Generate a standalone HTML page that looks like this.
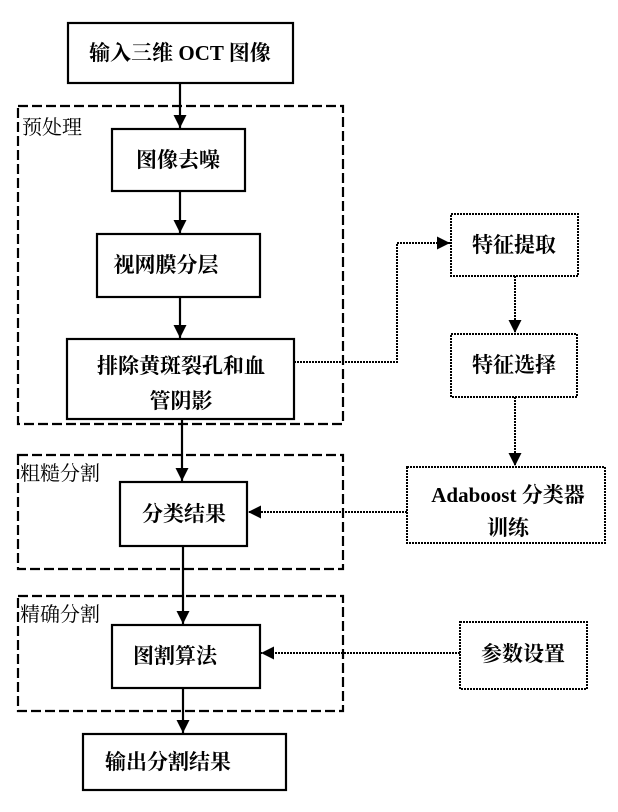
<!DOCTYPE html>
<html><head><meta charset="utf-8"><style>
body{margin:0;background:#fff;}
svg{display:block;}
text{font-family:"Liberation Serif","Noto Serif CJK SC",serif;fill:#000;}
.b{font-weight:bold;font-size:21px;}
.g{font-size:20px;}
</style></head><body>
<svg width="618" height="812" viewBox="0 0 618 812" xmlns="http://www.w3.org/2000/svg">
<defs>
<marker id="a" markerWidth="16" markerHeight="16" refX="13" refY="6.5" orient="auto" markerUnits="userSpaceOnUse"><path d="M0,0 L13,6.5 L0,13 Z" fill="#000"/></marker>
</defs>
<g fill="none" stroke="#000" stroke-width="2.2" stroke-dasharray="10,4">
<rect x="18" y="106" width="325" height="318"/>
<rect x="18" y="455" width="325" height="114"/>
<rect x="18" y="596" width="325" height="115"/>
</g>
<g fill="#fff" stroke="#000" stroke-width="2.2">
<rect x="68" y="23" width="225" height="60"/>
<rect x="112" y="129" width="133" height="62"/>
<rect x="97" y="234" width="163" height="63"/>
<rect x="67" y="339" width="227" height="80"/>
<rect x="120" y="482" width="127" height="64"/>
<rect x="112" y="625" width="148" height="63"/>
<rect x="83" y="734" width="203" height="56"/>
</g>
<g fill="#fff" stroke="#000" stroke-width="2" stroke-dasharray="2,1">
<rect x="451" y="214" width="127" height="62"/>
<rect x="451" y="334" width="126" height="63"/>
<rect x="407" y="467" width="198" height="76"/>
<rect x="460" y="622" width="127" height="67"/>
</g>
<g stroke="#000" stroke-width="2.2" fill="none" marker-end="url(#a)">
<line x1="180" y1="83" x2="180" y2="128"/>
<line x1="180" y1="191" x2="180" y2="233"/>
<line x1="180" y1="297" x2="180" y2="338"/>
<line x1="182" y1="419" x2="182" y2="481"/>
<line x1="183" y1="546" x2="183" y2="624"/>
<line x1="183" y1="688" x2="183" y2="733"/>
</g>
<g stroke="#000" stroke-width="2" stroke-dasharray="2,1" fill="none" marker-end="url(#a)">
<polyline points="294,362 397,362 397,243 450,243"/>
<line x1="515" y1="276" x2="515" y2="333"/>
<line x1="515" y1="397" x2="515" y2="466"/>
<line x1="407" y1="512" x2="248" y2="512"/>
<line x1="460" y1="653" x2="261" y2="653"/>
</g>
<text class="b" x="180" y="60" text-anchor="middle">输入三维 OCT 图像</text>
<text class="g" x="22" y="134">预处理</text>
<text class="b" x="178" y="167" text-anchor="middle">图像去噪</text>
<text class="b" x="166" y="272" text-anchor="middle">视网膜分层</text>
<text class="b" x="181" y="373" text-anchor="middle">排除黄斑裂孔和血</text>
<text class="b" x="181" y="408" text-anchor="middle">管阴影</text>
<text class="g" x="20" y="480">粗糙分割</text>
<text class="b" x="184" y="521" text-anchor="middle">分类结果</text>
<text class="g" x="20" y="621">精确分割</text>
<text class="b" x="175" y="663" text-anchor="middle">图割算法</text>
<text class="b" x="168" y="769" text-anchor="middle">输出分割结果</text>
<text class="b" x="514" y="252" text-anchor="middle">特征提取</text>
<text class="b" x="514" y="372" text-anchor="middle">特征选择</text>
<text class="b" x="508" y="502" text-anchor="middle">Adaboost 分类器</text>
<text class="b" x="508" y="535" text-anchor="middle">训练</text>
<text class="b" x="523" y="661" text-anchor="middle">参数设置</text>
</svg>
</body></html>
